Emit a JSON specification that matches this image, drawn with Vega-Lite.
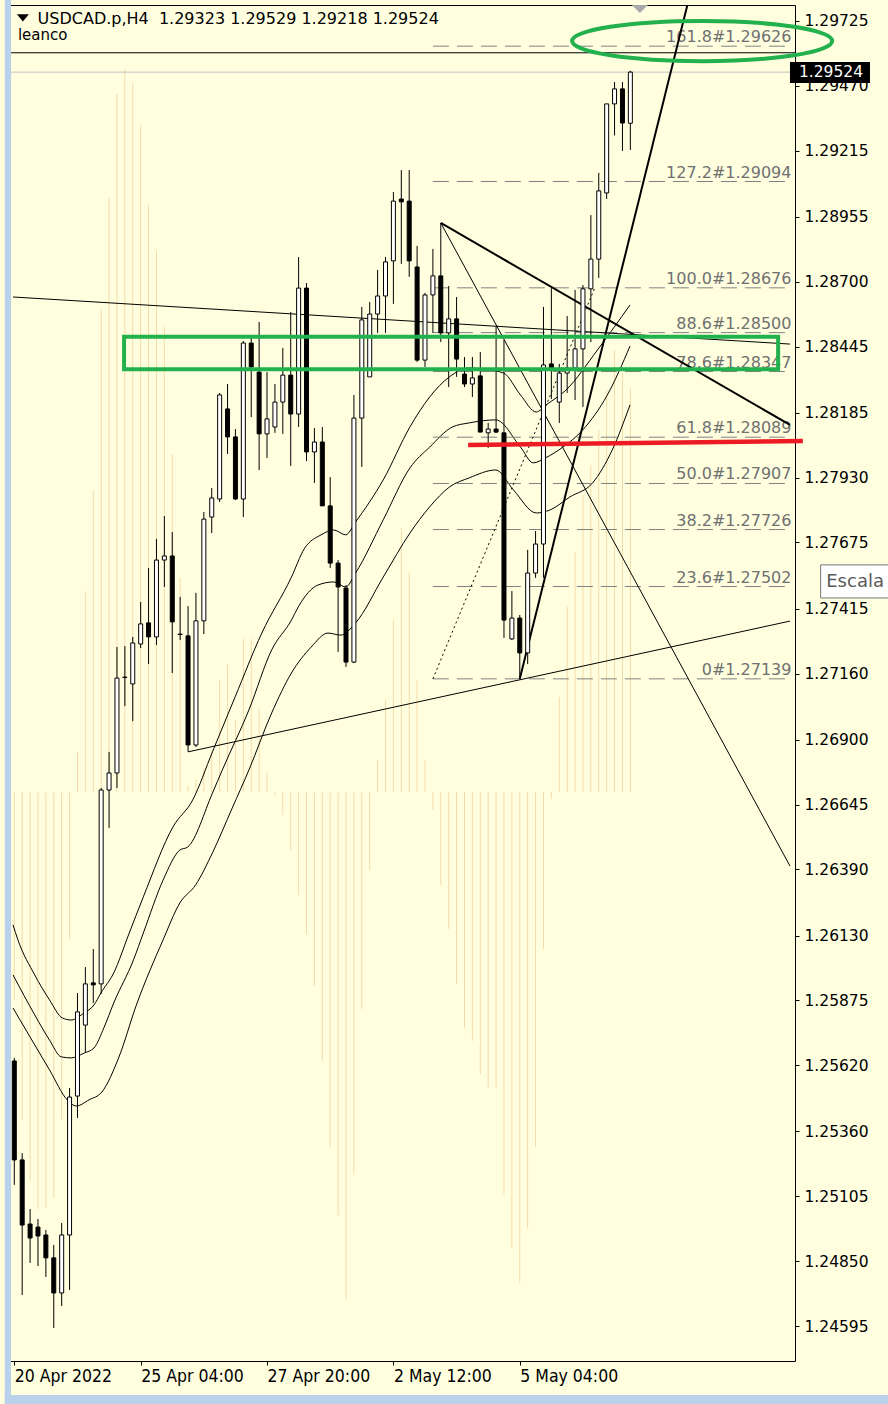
{
  "$schema": "https://vega.github.io/schema/vega-lite/v6.json",
  "width": 787,
  "height": 1356,
  "autosize": "none",
  "padding": {"left": 8, "top": 5, "right": 93, "bottom": 43},
  "background": "#FFFFE0",
  "config": {
    "view": {"stroke": "#000000", "strokeWidth": 1},
    "font": "DejaVu Sans",
    "axis": {"labelColor": "#000000", "tickColor": "#000000", "grid": false, "domain": false}
  },
  "datasets": {
    "candles": [
      {"i":0,"o":1.25637,"h":1.25649,"l":1.25150,"c":1.25248},
      {"i":1,"o":1.25248,"h":1.25275,"l":1.24717,"c":1.24992},
      {"i":2,"o":1.24996,"h":1.25055,"l":1.24843,"c":1.24941},
      {"i":3,"o":1.24984,"h":1.25016,"l":1.24831,"c":1.24949},
      {"i":4,"o":1.24953,"h":1.24973,"l":1.24788,"c":1.24863},
      {"i":5,"o":1.24863,"h":1.24914,"l":1.24587,"c":1.24725},
      {"i":6,"o":1.24725,"h":1.25000,"l":1.24674,"c":1.24953},
      {"i":7,"o":1.24953,"h":1.25531,"l":1.24737,"c":1.25495},
      {"i":8,"o":1.25499,"h":1.25904,"l":1.25413,"c":1.25830},
      {"i":9,"o":1.25778,"h":1.26006,"l":1.25672,"c":1.25940},
      {"i":10,"o":1.25944,"h":1.26077,"l":1.25865,"c":1.25936},
      {"i":11,"o":1.25940,"h":1.26710,"l":1.25900,"c":1.26702},
      {"i":12,"o":1.26702,"h":1.26852,"l":1.26553,"c":1.26769},
      {"i":13,"o":1.26769,"h":1.27264,"l":1.26710,"c":1.27142},
      {"i":14,"o":1.27146,"h":1.27268,"l":1.27032,"c":1.27144},
      {"i":15,"o":1.27119,"h":1.27304,"l":1.26973,"c":1.27280},
      {"i":16,"o":1.27276,"h":1.27441,"l":1.27260,"c":1.27355},
      {"i":17,"o":1.27359,"h":1.27575,"l":1.27197,"c":1.27304},
      {"i":18,"o":1.27304,"h":1.27689,"l":1.27272,"c":1.27606},
      {"i":19,"o":1.27606,"h":1.27779,"l":1.27500,"c":1.27622},
      {"i":20,"o":1.27622,"h":1.27716,"l":1.27162,"c":1.27363},
      {"i":21,"o":1.27315,"h":1.27461,"l":1.27292,"c":1.27313},
      {"i":22,"o":1.27308,"h":1.27425,"l":1.26852,"c":1.26879},
      {"i":23,"o":1.26879,"h":1.27477,"l":1.26871,"c":1.27367},
      {"i":24,"o":1.27367,"h":1.27795,"l":1.27315,"c":1.27767},
      {"i":25,"o":1.27775,"h":1.27889,"l":1.27712,"c":1.27850},
      {"i":26,"o":1.27846,"h":1.28263,"l":1.27834,"c":1.28255},
      {"i":27,"o":1.28200,"h":1.28298,"l":1.28023,"c":1.28090},
      {"i":28,"o":1.28090,"h":1.28121,"l":1.27842,"c":1.27846},
      {"i":29,"o":1.27846,"h":1.28467,"l":1.27775,"c":1.28459},
      {"i":30,"o":1.28459,"h":1.28479,"l":1.28168,"c":1.28365},
      {"i":31,"o":1.28345,"h":1.28542,"l":1.27960,"c":1.28102},
      {"i":32,"o":1.28102,"h":1.28345,"l":1.28007,"c":1.28161},
      {"i":33,"o":1.28129,"h":1.28298,"l":1.28106,"c":1.28227},
      {"i":34,"o":1.28227,"h":1.28440,"l":1.28102,"c":1.28333},
      {"i":35,"o":1.28333,"h":1.28581,"l":1.27976,"c":1.28180},
      {"i":36,"o":1.28180,"h":1.28797,"l":1.28129,"c":1.28675},
      {"i":37,"o":1.28675,"h":1.28695,"l":1.27995,"c":1.28031},
      {"i":38,"o":1.28031,"h":1.28125,"l":1.27909,"c":1.28070},
      {"i":39,"o":1.28070,"h":1.28129,"l":1.27819,"c":1.27819},
      {"i":40,"o":1.27819,"h":1.27932,"l":1.27575,"c":1.27594},
      {"i":41,"o":1.27594,"h":1.27606,"l":1.27245,"c":1.27500},
      {"i":42,"o":1.27496,"h":1.27508,"l":1.27186,"c":1.27205},
      {"i":43,"o":1.27205,"h":1.28255,"l":1.27201,"c":1.28164},
      {"i":44,"o":1.28164,"h":1.28601,"l":1.27972,"c":1.28550},
      {"i":45,"o":1.28326,"h":1.28620,"l":1.28326,"c":1.28573},
      {"i":46,"o":1.28573,"h":1.28746,"l":1.28499,"c":1.28644},
      {"i":47,"o":1.28644,"h":1.28797,"l":1.28499,"c":1.28778},
      {"i":48,"o":1.28782,"h":1.29053,"l":1.28613,"c":1.29017},
      {"i":49,"o":1.29025,"h":1.29139,"l":1.28770,"c":1.29014},
      {"i":50,"o":1.29017,"h":1.29139,"l":1.28719,"c":1.28782},
      {"i":51,"o":1.28758,"h":1.28841,"l":1.28385,"c":1.28392},
      {"i":52,"o":1.28392,"h":1.28656,"l":1.28365,"c":1.28648},
      {"i":53,"o":1.28648,"h":1.28829,"l":1.28499,"c":1.28723},
      {"i":54,"o":1.28723,"h":1.28931,"l":1.28463,"c":1.28499},
      {"i":55,"o":1.28499,"h":1.28683,"l":1.28286,"c":1.28554},
      {"i":56,"o":1.28554,"h":1.28640,"l":1.28326,"c":1.28396},
      {"i":57,"o":1.28337,"h":1.28404,"l":1.28286,"c":1.28298},
      {"i":58,"o":1.28298,"h":1.28404,"l":1.28247,"c":1.28322},
      {"i":59,"o":1.28330,"h":1.28424,"l":1.28109,"c":1.28109},
      {"i":60,"o":1.28106,"h":1.28145,"l":1.28047,"c":1.28121},
      {"i":61,"o":1.28121,"h":1.28526,"l":1.28106,"c":1.28109},
      {"i":62,"o":1.28106,"h":1.28471,"l":1.27300,"c":1.27370},
      {"i":63,"o":1.27296,"h":1.27484,"l":1.27292,"c":1.27378},
      {"i":64,"o":1.27378,"h":1.27390,"l":1.27139,"c":1.27241},
      {"i":65,"o":1.27241,"h":1.27646,"l":1.27197,"c":1.27555},
      {"i":66,"o":1.27555,"h":1.27720,"l":1.27536,"c":1.27669},
      {"i":67,"o":1.27669,"h":1.28601,"l":1.27536,"c":1.28373},
      {"i":68,"o":1.28377,"h":1.28675,"l":1.28239,"c":1.28361},
      {"i":69,"o":1.28227,"h":1.28377,"l":1.28145,"c":1.28341},
      {"i":70,"o":1.28341,"h":1.28565,"l":1.28263,"c":1.28361},
      {"i":71,"o":1.28361,"h":1.28668,"l":1.28235,"c":1.28436},
      {"i":72,"o":1.28436,"h":1.28687,"l":1.28208,"c":1.28672},
      {"i":73,"o":1.28672,"h":1.28962,"l":1.28463,"c":1.28789},
      {"i":74,"o":1.28789,"h":1.29128,"l":1.28715,"c":1.29057},
      {"i":75,"o":1.29049,"h":1.29399,"l":1.29025,"c":1.29399},
      {"i":76,"o":1.29399,"h":1.29485,"l":1.29275,"c":1.29458},
      {"i":77,"o":1.29458,"h":1.29485,"l":1.29214,"c":1.29324},
      {"i":78,"o":1.29323,"h":1.29529,"l":1.29218,"c":1.29524}
    ],
    "osc": [
      {"i":0,"v":1.25877},{"i":1,"v":1.25405},{"i":2,"v":1.25169},{"i":3,"v":1.25055},{"i":4,"v":1.25059},
      {"i":5,"v":1.25098},{"i":6,"v":1.25405},{"i":7,"v":1.26116},{"i":8,"v":1.26852},{"i":9,"v":1.27484},
      {"i":10,"v":1.27881},{"i":11,"v":1.28593},{"i":12,"v":1.29029},{"i":13,"v":1.29438},{"i":14,"v":1.29536},
      {"i":15,"v":1.29481},{"i":16,"v":1.29316},{"i":17,"v":1.29002},{"i":18,"v":1.28821},{"i":19,"v":1.28522},
      {"i":20,"v":1.28023},{"i":21,"v":1.27536},{"i":22,"v":1.26718},{"i":23,"v":1.26742},{"i":24,"v":1.26789},
      {"i":25,"v":1.26859},{"i":26,"v":1.27135},{"i":27,"v":1.27197},{"i":28,"v":1.26977},{"i":29,"v":1.27296},
      {"i":30,"v":1.27296},{"i":31,"v":1.27021},{"i":32,"v":1.26773},{"i":33,"v":1.26679},{"i":34,"v":1.26604},
      {"i":35,"v":1.26466},{"i":36,"v":1.26289},{"i":37,"v":1.26136},{"i":38,"v":1.25932},{"i":39,"v":1.25637},
      {"i":40,"v":1.25295},{"i":41,"v":1.25028},{"i":42,"v":1.24701},{"i":43,"v":1.25189},{"i":44,"v":1.25841},
      {"i":45,"v":1.26388},{"i":46,"v":1.26820},{"i":47,"v":1.27056},{"i":48,"v":1.27370},{"i":49,"v":1.27732},
      {"i":50,"v":1.27559},{"i":51,"v":1.27135},{"i":52,"v":1.26820},{"i":53,"v":1.26624},{"i":54,"v":1.26329},
      {"i":55,"v":1.26156},{"i":56,"v":1.25940},{"i":57,"v":1.25767},{"i":58,"v":1.25716},{"i":59,"v":1.25586},
      {"i":60,"v":1.25531},{"i":61,"v":1.25531},{"i":62,"v":1.25114},{"i":63,"v":1.24902},{"i":64,"v":1.24764},
      {"i":65,"v":1.24977},{"i":66,"v":1.25299},{"i":67,"v":1.26077},{"i":68,"v":1.26667},{"i":69,"v":1.27068},
      {"i":70,"v":1.27422},{"i":71,"v":1.27638},{"i":72,"v":1.27862},{"i":73,"v":1.27980},{"i":74,"v":1.28117},
      {"i":75,"v":1.28274},{"i":76,"v":1.28432},{"i":77,"v":1.28341},{"i":78,"v":1.28282}
    ],
    "ma": [
      {"line":"a","i":-0.16,"p":1.26172},{"line":"a","i":0.46,"p":1.26113},{"line":"a","i":2.59,"p":1.25975},
      {"line":"a","i":4.46,"p":1.25877},{"line":"a","i":6.09,"p":1.25806},{"line":"a","i":7.21,"p":1.25798},
      {"line":"a","i":8.84,"p":1.25826},{"line":"a","i":10.09,"p":1.25857},{"line":"a","i":10.96,"p":1.25904},
      {"line":"a","i":12.59,"p":1.25983},{"line":"a","i":14.46,"p":1.26132},{"line":"a","i":16.34,"p":1.26282},
      {"line":"a","i":20.09,"p":1.26557},{"line":"a","i":22.59,"p":1.26663},{"line":"a","i":25.09,"p":1.26852},
      {"line":"a","i":27.96,"p":1.27068},{"line":"a","i":31.34,"p":1.27319},{"line":"a","i":35.09,"p":1.27539},
      {"line":"a","i":36.71,"p":1.27650},{"line":"a","i":38.84,"p":1.27705},{"line":"a","i":40.46,"p":1.27724},
      {"line":"a","i":41.96,"p":1.27705},{"line":"a","i":43.21,"p":1.27756},{"line":"a","i":46.71,"p":1.27921},
      {"line":"a","i":50.09,"p":1.28129},{"line":"a","i":52.59,"p":1.28247},{"line":"a","i":55.09,"p":1.28326},
      {"line":"a","i":57.59,"p":1.28361},{"line":"a","i":60.09,"p":1.28353},{"line":"a","i":61.96,"p":1.28341},
      {"line":"a","i":64.09,"p":1.28255},{"line":"a","i":66.09,"p":1.28188},{"line":"a","i":67.34,"p":1.28216},
      {"line":"a","i":69.84,"p":1.28274},{"line":"a","i":73.84,"p":1.28432},{"line":"a","i":77.96,"p":1.28609},
      {"line":"b","i":-0.16,"p":1.25975},{"line":"b","i":2.59,"p":1.25818},{"line":"b","i":4.46,"p":1.25719},
      {"line":"b","i":5.96,"p":1.25653},{"line":"b","i":7.21,"p":1.25649},{"line":"b","i":8.84,"p":1.25668},
      {"line":"b","i":10.09,"p":1.25688},{"line":"b","i":11.34,"p":1.25767},{"line":"b","i":12.59,"p":1.25865},
      {"line":"b","i":15.09,"p":1.26034},{"line":"b","i":16.34,"p":1.26140},{"line":"b","i":18.84,"p":1.26348},
      {"line":"b","i":20.96,"p":1.26466},{"line":"b","i":21.96,"p":1.26478},{"line":"b","i":25.09,"p":1.26690},
      {"line":"b","i":26.34,"p":1.26781},{"line":"b","i":29.71,"p":1.27017},{"line":"b","i":32.59,"p":1.27253},
      {"line":"b","i":35.09,"p":1.27370},{"line":"b","i":35.96,"p":1.27422},{"line":"b","i":38.46,"p":1.27508},
      {"line":"b","i":40.46,"p":1.27520},{"line":"b","i":41.96,"p":1.27500},{"line":"b","i":43.21,"p":1.27555},
      {"line":"b","i":46.71,"p":1.27764},{"line":"b","i":50.09,"p":1.27968},{"line":"b","i":52.59,"p":1.28050},
      {"line":"b","i":55.46,"p":1.28129},{"line":"b","i":57.59,"p":1.28145},{"line":"b","i":60.96,"p":1.28157},
      {"line":"b","i":64.09,"p":1.28050},{"line":"b","i":65.71,"p":1.27988},{"line":"b","i":67.21,"p":1.28007},
      {"line":"b","i":69.46,"p":1.28050},{"line":"b","i":71.96,"p":1.28117},{"line":"b","i":75.09,"p":1.28255},
      {"line":"b","i":77.96,"p":1.28447},
      {"line":"c","i":-0.16,"p":1.25845},{"line":"c","i":2.59,"p":1.25700},{"line":"c","i":4.46,"p":1.25602},
      {"line":"c","i":6.71,"p":1.25484},{"line":"c","i":7.84,"p":1.25460},{"line":"c","i":9.46,"p":1.25484},
      {"line":"c","i":11.09,"p":1.25515},{"line":"c","i":13.21,"p":1.25649},{"line":"c","i":15.46,"p":1.25857},
      {"line":"c","i":18.84,"p":1.26113},{"line":"c","i":20.96,"p":1.26258},{"line":"c","i":22.96,"p":1.26329},
      {"line":"c","i":25.09,"p":1.26455},{"line":"c","i":27.59,"p":1.26631},{"line":"c","i":29.71,"p":1.26781},
      {"line":"c","i":32.59,"p":1.27005},{"line":"c","i":35.09,"p":1.27162},{"line":"c","i":37.59,"p":1.27264},
      {"line":"c","i":39.71,"p":1.27319},{"line":"c","i":41.34,"p":1.27311},{"line":"c","i":43.21,"p":1.27359},
      {"line":"c","i":46.71,"p":1.27539},{"line":"c","i":50.09,"p":1.27712},{"line":"c","i":52.59,"p":1.27815},
      {"line":"c","i":55.09,"p":1.27893},{"line":"c","i":57.59,"p":1.27929},{"line":"c","i":60.96,"p":1.27960},
      {"line":"c","i":63.21,"p":1.27881},{"line":"c","i":66.09,"p":1.27791},{"line":"c","i":67.84,"p":1.27803},
      {"line":"c","i":70.34,"p":1.27854},{"line":"c","i":73.21,"p":1.27909},{"line":"c","i":75.71,"p":1.28039},
      {"line":"c","i":77.96,"p":1.28216}
    ],
    "fib": [
      {"label":"161.8#1.29626","price":1.29626},
      {"label":"127.2#1.29094","price":1.29094},
      {"label":"100.0#1.28676","price":1.28676},
      {"label":"88.6#1.28500","price":1.28500},
      {"label":"78.6#1.28347","price":1.28347},
      {"label":"61.8#1.28089","price":1.28089},
      {"label":"50.0#1.27907","price":1.27907},
      {"label":"38.2#1.27726","price":1.27726},
      {"label":"23.6#1.27502","price":1.27502},
      {"label":"0#1.27139","price":1.27139}
    ],
    "thinLines": [
      {"i1":-0.1625,"p1":1.28640,"i2":98.2125,"p2":1.28455},
      {"i1":54,"p1":1.28931,"i2":98.2125,"p2":1.26403},
      {"i1":22,"p1":1.26852,"i2":98.2125,"p2":1.27366}
    ],
    "thickLines": [
      {"i1":54,"p1":1.28931,"i2":98.2125,"p2":1.28137},
      {"i1":64,"p1":1.27139,"i2":86,"p2":1.29885}
    ],
    "fibTrend": [
      {"i1":53,"p1":1.27139,"i2":73.5,"p2":1.28676}
    ]
  },
  "layer": [
    {
      "data": {"name": "osc"},
      "mark": {"type": "rule", "color": "#F5DAA8", "strokeWidth": 1, "clip": true},
      "encoding": {
        "x": {
          "field": "i", "type": "quantitative",
          "scale": {"domain": [-0.1625, 98.2125], "nice": false, "zero": false},
          "axis": {
            "title": null,
            "values": [0, 16, 32, 48, 64],
            "labelExpr": "datum.value == 0 ? '20 Apr 2022' : datum.value == 16 ? '25 Apr 04:00' : datum.value == 32 ? '27 Apr 20:00' : datum.value == 48 ? '2 May 12:00' : '5 May 04:00'",
            "labelAlign": "left",
            "labelFont": "DejaVu Sans Condensed, DejaVu Sans",
            "labelFontSize": 17.5,
            "labelPadding": 2,
            "labelDx": -2,
            "tickSize": 4,
            "labelFlush": false,
            "labelOverlap": false,
            "labelBound": false
          }
        },
        "y": {
          "field": "v", "type": "quantitative",
          "scale": {"domain": [1.244576, 1.297878], "nice": false, "zero": false},
          "axis": {
            "title": null,
            "orient": "right",
            "values": [1.24595, 1.2485, 1.25105, 1.2536, 1.2562, 1.25875, 1.2613, 1.2639, 1.26645, 1.269, 1.2716, 1.27415, 1.27675, 1.2793, 1.28185, 1.28445, 1.287, 1.28955, 1.29215, 1.2947, 1.29725],
            "format": ".5f",
            "labelFont": "DejaVu Sans",
            "labelFontSize": 15.5,
            "labelPadding": 5,
            "tickSize": 4,
            "labelOverlap": false,
            "labelBound": false
          }
        },
        "y2": {"datum": 1.26694}
      }
    },
    {
      "data": {"name": "ma"},
      "mark": {"type": "line", "color": "#000000", "strokeWidth": 1, "interpolate": "monotone", "clip": true},
      "encoding": {
        "x": {"field": "i", "type": "quantitative"},
        "y": {"field": "p", "type": "quantitative"},
        "detail": {"field": "line"}
      }
    },
    {
      "data": {"values": [{"p": 1.296}]},
      "mark": {"type": "rule", "color": "#000000", "strokeWidth": 1},
      "encoding": {"y": {"field": "p", "type": "quantitative"}}
    },
    {
      "data": {"values": [{"p": 1.29524}]},
      "mark": {"type": "rule", "color": "#C0C0C0", "strokeWidth": 1},
      "encoding": {"y": {"field": "p", "type": "quantitative"}}
    },
    {
      "data": {"name": "fib"},
      "mark": {"type": "rule", "color": "#808080", "strokeWidth": 1, "strokeDash": [16, 8], "clip": true},
      "encoding": {
        "x": {"datum": 53, "type": "quantitative"},
        "x2": {"datum": 98.2125},
        "y": {"field": "price", "type": "quantitative"}
      }
    },
    {
      "data": {"name": "fib"},
      "mark": {"type": "text", "align": "right", "baseline": "alphabetic", "dy": -4, "font": "DejaVu Sans", "fontSize": 16, "color": "#707070"},
      "encoding": {
        "x": {"datum": 98.4, "type": "quantitative"},
        "y": {"field": "price", "type": "quantitative"},
        "text": {"field": "label"}
      }
    },
    {
      "data": {"name": "thinLines"},
      "mark": {"type": "rule", "color": "#000000", "strokeWidth": 1, "clip": true},
      "encoding": {
        "x": {"field": "i1", "type": "quantitative"},
        "x2": {"field": "i2"},
        "y": {"field": "p1", "type": "quantitative"},
        "y2": {"field": "p2"}
      }
    },
    {
      "data": {"name": "thickLines"},
      "mark": {"type": "rule", "color": "#000000", "strokeWidth": 2, "clip": true},
      "encoding": {
        "x": {"field": "i1", "type": "quantitative"},
        "x2": {"field": "i2"},
        "y": {"field": "p1", "type": "quantitative"},
        "y2": {"field": "p2"}
      }
    },
    {
      "data": {"name": "fibTrend"},
      "mark": {"type": "rule", "color": "#000000", "strokeWidth": 1, "strokeDash": [2, 3], "clip": true},
      "encoding": {
        "x": {"field": "i1", "type": "quantitative"},
        "x2": {"field": "i2"},
        "y": {"field": "p1", "type": "quantitative"},
        "y2": {"field": "p2"}
      }
    },
    {
      "data": {"name": "candles"},
      "mark": {"type": "rule", "color": "#000000", "strokeWidth": 1, "clip": true},
      "encoding": {
        "x": {"field": "i", "type": "quantitative"},
        "y": {"field": "l", "type": "quantitative"},
        "y2": {"field": "h"}
      }
    },
    {
      "data": {"name": "candles"},
      "mark": {"type": "bar", "width": 4, "stroke": "#000000", "strokeWidth": 1, "clip": true},
      "encoding": {
        "x": {"field": "i", "type": "quantitative"},
        "y": {"field": "o", "type": "quantitative"},
        "y2": {"field": "c"},
        "fill": {"condition": {"test": "datum.c >= datum.o", "value": "#FFFFFF"}, "value": "#000000"}
      }
    },
    {
      "data": {"values": [{}]},
      "mark": {"type": "rect", "fill": "#FFFFFF", "fillOpacity": 0, "stroke": "#22B14C", "strokeWidth": 4, "clip": false},
      "encoding": {
        "x": {"datum": 13.9, "type": "quantitative"},
        "x2": {"datum": 96.71},
        "y": {"datum": 1.28484, "type": "quantitative"},
        "y2": {"datum": 1.28356}
      }
    },
    {
      "data": {"values": [{}]},
      "mark": {"type": "point", "shape": "M-1,0A1,0.155,0,1,1,1,0A1,0.155,0,1,1,-1,0Z", "size": 67600, "filled": false, "stroke": "#22B14C", "strokeWidth": 4, "opacity": 1, "clip": false},
      "encoding": {
        "x": {"datum": 87.09, "type": "quantitative"},
        "y": {"datum": 1.29646, "type": "quantitative"}
      }
    },
    {
      "data": {"values": [{}]},
      "mark": {"type": "rule", "color": "#ED1C24", "strokeWidth": 4.5, "clip": false},
      "encoding": {
        "x": {"datum": 57.46, "type": "quantitative"},
        "x2": {"datum": 99.84},
        "y": {"datum": 1.28058, "type": "quantitative"},
        "y2": {"datum": 1.28074}
      }
    },
    {
      "data": {"values": [{}]},
      "mark": {"type": "rect", "fill": "#000000", "clip": false},
      "encoding": {
        "x": {"datum": 98.21, "type": "quantitative"},
        "x2": {"datum": 108.34},
        "y": {"datum": 1.29564, "type": "quantitative"},
        "y2": {"datum": 1.29481}
      }
    },
    {
      "data": {"values": [{"t": "1.29524"}]},
      "mark": {"type": "text", "align": "left", "baseline": "middle", "font": "DejaVu Sans", "fontSize": 15.5, "color": "#FFFFFF", "clip": false},
      "encoding": {
        "x": {"datum": 99.34, "type": "quantitative"},
        "y": {"datum": 1.29524, "type": "quantitative"},
        "text": {"field": "t"}
      }
    },
    {
      "data": {"values": [{}]},
      "mark": {"type": "rect", "fill": "#FFFFFF", "stroke": "#767676", "strokeWidth": 1, "clip": false},
      "encoding": {
        "x": {"datum": 102.09, "type": "quantitative"},
        "x2": {"datum": 112},
        "y": {"datum": 1.27587, "type": "quantitative"},
        "y2": {"datum": 1.27457}
      }
    },
    {
      "data": {"values": [{"t": "Escala"}]},
      "mark": {"type": "text", "align": "left", "baseline": "middle", "font": "DejaVu Sans", "fontSize": 18, "color": "#5A5A5A", "clip": false},
      "encoding": {
        "x": {"datum": 102.8, "type": "quantitative"},
        "y": {"datum": 1.2752, "type": "quantitative"},
        "text": {"field": "t"}
      }
    },
    {
      "data": {"values": [{"t": "USDCAD.p,H4\u00a0\u00a01.29323 1.29529 1.29218 1.29524"}]},
      "mark": {"type": "text", "align": "left", "baseline": "middle", "font": "DejaVu Sans", "fontSize": 16, "color": "#000000"},
      "encoding": {
        "x": {"datum": 2.95, "type": "quantitative"},
        "y": {"datum": 1.29731, "type": "quantitative"},
        "text": {"field": "t"}
      }
    },
    {
      "data": {"values": [{"t": "leanco"}]},
      "mark": {"type": "text", "align": "left", "baseline": "middle", "font": "DejaVu Sans", "fontSize": 15, "color": "#000000"},
      "encoding": {
        "x": {"datum": 0.46, "type": "quantitative"},
        "y": {"datum": 1.29668, "type": "quantitative"},
        "text": {"field": "t"}
      }
    },
    {
      "data": {"values": [{}]},
      "mark": {"type": "point", "shape": "M-1,-0.6L1,-0.6L0,0.6Z", "size": 144, "filled": true, "color": "#000000", "opacity": 1},
      "encoding": {
        "x": {"datum": 1.09, "type": "quantitative"},
        "y": {"datum": 1.29737, "type": "quantitative"}
      }
    },
    {
      "data": {"values": [{}]},
      "mark": {"type": "point", "shape": "M-1,-0.5L1,-0.5L0,0.5Z", "size": 256, "filled": true, "color": "#A8A8A8", "opacity": 1, "clip": false},
      "encoding": {
        "x": {"datum": 79.21, "type": "quantitative"},
        "y": {"datum": 1.29772, "type": "quantitative"}
      }
    },
    {
      "data": {"values": [{}]},
      "mark": {"type": "rect", "fill": "#B9D1EA", "clip": false},
      "encoding": {
        "x": {"datum": -1.2, "type": "quantitative"},
        "x2": {"datum": -0.41},
        "y": {"datum": 1.242, "type": "quantitative"},
        "y2": {"datum": 1.2985}
      }
    },
    {
      "data": {"values": [{}]},
      "mark": {"type": "rect", "fill": "#B9D1EA", "clip": false},
      "encoding": {
        "x": {"datum": -1.2, "type": "quantitative"},
        "x2": {"datum": 112},
        "y": {"datum": 1.242, "type": "quantitative"},
        "y2": {"datum": 1.24324}
      }
    }
  ]
}
